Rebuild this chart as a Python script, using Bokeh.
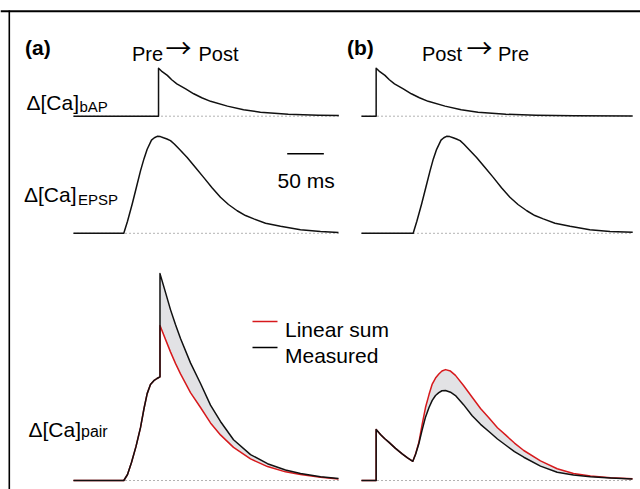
from bokeh.plotting import figure
from bokeh.models import Range1d
from bokeh.core.properties import value
from bokeh.embed import file_html
from bokeh.resources import INLINE

# ---------------- data: time in ms, delta[Ca] in a.u. (bAP peak = 1) ----------------
# (a) Pre -> Post
bap_a_t = [0, 116, 116, 120, 128, 134, 141, 153, 164, 175, 187, 210, 232, 255, 293, 334, 362]
bap_a_v = [0, 0, 1.0, 0.94, 0.85, 0.76, 0.675, 0.57, 0.467, 0.385, 0.31, 0.21, 0.133, 0.083, 0.04, 0.02, 0.012]

epsp_a_t = [0, 68.6, 73.7, 80.1, 86, 91.4, 96.1, 100.5, 106.4, 110.3, 114.2, 118.5, 122.8, 127.5, 132.3, 137.5,
            143.2, 155.1, 166.4, 177.8, 189, 200.5, 211.4, 223.3, 234.7, 246, 262, 282.4, 309.7, 337, 361.5]
epsp_a_v = [0, 0, 0.25, 0.61, 0.97, 1.30, 1.55, 1.75, 1.94, 1.99, 2.02, 2.015, 1.99, 1.965, 1.93, 1.86,
            1.77, 1.58, 1.37, 1.16, 0.95, 0.75, 0.60, 0.47, 0.37, 0.30, 0.21, 0.145, 0.075, 0.035, 0.015]

pair_a_t = [0, 68.6, 73.7, 79.1, 85.3, 91.4, 96.2, 100.5, 105, 109.6, 113.9, 118, 118,
            125.5, 132.3, 139.1, 146, 159.6, 173.3, 186.9, 200.5, 218.3, 241.5, 264.7, 289.2, 309.7, 337, 361.5]
pair_a_measured = [0, 0, 0.125, 0.375, 0.71, 1.10, 1.5, 1.81, 2.0, 2.08, 2.125, 2.16, 4.31,
                   3.92, 3.56, 3.25, 2.96, 2.45, 2.02, 1.57, 1.23, 0.85, 0.54, 0.35, 0.22, 0.146, 0.08, 0.04]
pair_a_linear = [0, 0, 0.125, 0.375, 0.71, 1.10, 1.5, 1.81, 2.0, 2.08, 2.125, 2.16, 3.23,
                 2.94, 2.68, 2.44, 2.22, 1.83, 1.52, 1.20, 0.95, 0.69, 0.45, 0.29, 0.18, 0.125, 0.067, 0.03]

# (b) Post -> Pre
bap_b_t = [0, 20, 20, 24, 32, 38, 45, 57, 68, 79, 91, 114, 136, 159, 197, 238, 290, 370]
bap_b_v = [0, 0, 1.0, 0.94, 0.85, 0.76, 0.675, 0.57, 0.467, 0.385, 0.31, 0.21, 0.133, 0.083, 0.04, 0.02, 0.008, 0.004]

epsp_b_t = [0, 70.5, 75.5, 82, 88, 93.5, 98, 102.5, 108.5, 112.3, 116, 120.5, 125, 129.5, 134.5, 139.5,
            145, 157, 168.5, 180, 191, 202.5, 213.5, 225.5, 236.5, 248, 264, 284.5, 311.5, 339, 370]
epsp_b_v = [0, 0, 0.25, 0.61, 0.97, 1.30, 1.55, 1.75, 1.94, 1.99, 2.02, 2.015, 1.99, 1.965, 1.93, 1.86,
            1.77, 1.58, 1.37, 1.16, 0.95, 0.75, 0.60, 0.47, 0.37, 0.30, 0.21, 0.145, 0.075, 0.035, 0.02]

pair_b_t = [0, 20, 20, 25.9, 31.4, 37.2, 46.4, 55.5, 62.8, 70, 73.7, 78.2, 82.5, 87.3, 92.1, 96.5, 101,
            105.5, 109.8, 114.6, 121.4, 128.2, 139.2, 151, 162.4, 174.6, 185.5, 196.5, 208.7, 221.4,
            244.2, 267, 289.2, 312.4, 339.7, 369.7]
pair_b_measured = [0, 0, 1.06, 0.96, 0.875, 0.80, 0.67, 0.556, 0.47, 0.40, 0.54, 0.765, 1.04, 1.32, 1.52,
                   1.67, 1.77, 1.83, 1.87, 1.875, 1.84, 1.77, 1.58, 1.35, 1.17, 1.01, 0.865, 0.74, 0.60,
                   0.485, 0.30, 0.173, 0.115, 0.08, 0.052, 0.03]
pair_b_linear = [0, 0, 1.06, 0.96, 0.875, 0.80, 0.67, 0.556, 0.47, 0.40, 0.55, 0.79, 1.15, 1.52, 1.79,
                 2.01, 2.135, 2.22, 2.28, 2.31, 2.28, 2.19, 1.98, 1.735, 1.50, 1.29, 1.10, 0.95, 0.78,
                 0.625, 0.41, 0.245, 0.146, 0.094, 0.058, 0.035]

scale_bar_ms = 50
legend_labels = ["Linear sum", "Measured"]

# ---------------- layout ----------------
W, H = 640, 489
X0, Y0 = 0, 0
PX_MS = 0.733            # px per ms
PX_U = 48.0              # px per a.u.
FONT = value("Liberation Sans")
ARROW_FONT = value("Noto Sans CJK JP")
RED = "#d7191c"
FILL = "#e2e2e5"

p = figure(width=W, height=H, output_backend="svg", toolbar_location=None,
           x_range=Range1d(X0, X0 + W), y_range=Range1d(Y0 + H, Y0),
           x_axis_location=None, y_axis_location=None, min_border=0,
           outline_line_color=None, background_fill_color="white", border_fill_color="white")
p.grid.visible = False


def trange(x0):
    return Range1d(start=(X0 - x0) / PX_MS, end=(X0 + W - x0) / PX_MS)


def vrange(yb):
    return Range1d(start=(yb - (Y0 + H)) / PX_U, end=(yb - Y0) / PX_U)


p.extra_x_ranges = {"ta": trange(73), "tb": trange(361)}
p.extra_y_ranges = {"r_bap": vrange(115.7), "r_epsp": vrange(232.8), "r_pair": vrange(480)}


def trace(t, v, xr, yr, color="#111111", width=1.5):
    p.line(x=t, y=v, x_range_name=xr, y_range_name=yr, line_color=color, line_width=width,
           line_join="round")


def baseline(t, xr, yr):
    p.line(x=[t[0], t[-1]], y=[0, 0], x_range_name=xr, y_range_name=yr,
           line_color="#666666", line_width=1, line_dash="1 3")


# dotted baselines
for t, xr, yr in [(bap_a_t, "ta", "r_bap"), (epsp_a_t, "ta", "r_epsp"), (pair_a_t, "ta", "r_pair"),
                  (bap_b_t, "tb", "r_bap"), (epsp_b_t, "tb", "r_epsp"), (pair_b_t, "tb", "r_pair")]:
    baseline(t, xr, yr)

# fills between linear sum and measured
p.varea(x=pair_a_t, y1=pair_a_linear, y2=pair_a_measured, x_range_name="ta", y_range_name="r_pair",
        fill_color=FILL)
p.varea(x=pair_b_t, y1=pair_b_linear, y2=pair_b_measured, x_range_name="tb", y_range_name="r_pair",
        fill_color=FILL)

# traces
trace(bap_a_t, bap_a_v, "ta", "r_bap")
trace(epsp_a_t, epsp_a_v, "ta", "r_epsp")
trace(pair_a_t, pair_a_linear, "ta", "r_pair", RED)
trace(pair_a_t, pair_a_measured, "ta", "r_pair")
trace(bap_b_t, bap_b_v, "tb", "r_bap")
trace(epsp_b_t, epsp_b_v, "tb", "r_epsp")
trace(pair_b_t, pair_b_linear, "tb", "r_pair", RED)
trace(pair_b_t, pair_b_measured, "tb", "r_pair")

# scale bar (50 ms on panel a's time scale)
sb_start = (286.7 - 73) / PX_MS
p.segment(x0=[sb_start], x1=[sb_start + scale_bar_ms], y0=[153.3], y1=[153.3],
          x_range_name="ta", line_color="black", line_width=1.5)

# legend
p.segment(x0=[252, 252], x1=[277, 277], y0=[321, 347], y1=[321, 347],
          line_color=[RED, "black"], line_width=1.5)


def txt(x, y, s, size, bold=False, font=FONT):
    p.text(x=[x], y=[y], text=[s], text_font=font, text_font_size=size,
           text_font_style="bold" if bold else "normal", text_baseline="alphabetic",
           text_align="left", text_color="black")


txt(284.5, 328.5, legend_labels[0], "21px")
txt(284.5, 354.5, legend_labels[1], "21px")
txt(277, 180, "%d ms" % scale_bar_ms, "21px")

txt(24.5, 46.5, "(a)", "21px", True)
txt(346.5, 46.5, "(b)", "21px", True)

# column titles: words + long thin arrow
txt(131.5, 53.5, "Pre", "20px")
txt(165, 45.5, "\u2192", "26px", font=ARROW_FONT)
txt(198, 53.5, "Post", "20px")
txt(421.5, 53.5, "Post", "20px")
txt(466, 45.5, "\u2192", "26px", font=ARROW_FONT)
txt(497.5, 53.5, "Pre", "20px")

txt(26, 101.7, "\u0394[Ca]", "21px")
txt(79, 105.5, "bAP", "15px")
txt(23.5, 194, "\u0394[Ca]", "21px")
txt(77.5, 198.5, "EPSP", "15px")
txt(28, 428.5, "\u0394[Ca]", "21px")
txt(80.5, 430.5, "pair", "16px")

# frame border (top and left)
p.segment(x0=[X0, 8.8], x1=[X0 + W, 8.8], y0=[10.8, 10], y1=[10.8, Y0 + H],
          line_color="black", line_width=[2, 1.6])

open("out.html", "w").write(file_html(p, INLINE))
